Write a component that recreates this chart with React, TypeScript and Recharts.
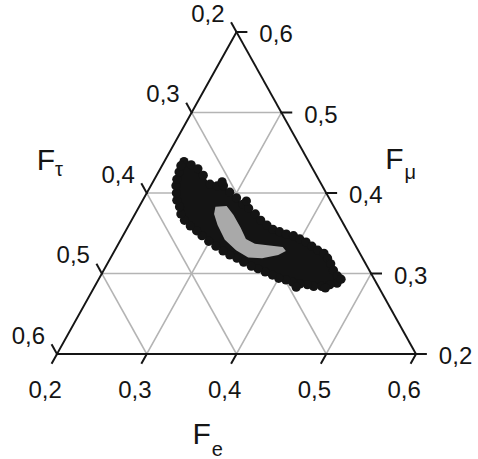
import React from 'react';
import { ScatterChart, Scatter, XAxis, YAxis } from 'recharts';

// ternary axis values (each axis runs 0.2 .. 0.6)
const axisTicks = [0.2, 0.3, 0.4, 0.5, 0.6];
const gridValues = [0.3, 0.4, 0.5];

// black cloud: outline points [Fe, Fmu] (F_tau = 1 - Fe - Fmu)
const cloudEdge: [number, number][] = [
  [0.222, 0.439], [0.232, 0.435], [0.242, 0.430], [0.252, 0.422], [0.265, 0.411],
  [0.274, 0.409], [0.281, 0.409], [0.292, 0.401], [0.303, 0.394], [0.314, 0.386],
  [0.323, 0.381], [0.334, 0.374], [0.344, 0.366], [0.354, 0.360], [0.363, 0.355],
  [0.372, 0.352], [0.381, 0.349], [0.390, 0.347], [0.399, 0.343], [0.408, 0.339],
  [0.417, 0.334], [0.426, 0.329], [0.435, 0.325], [0.442, 0.319], [0.449, 0.312],
  [0.456, 0.304], [0.464, 0.297], [0.468, 0.288], [0.461, 0.286], [0.453, 0.284],
  [0.444, 0.284], [0.436, 0.286], [0.427, 0.287], [0.418, 0.289], [0.409, 0.292],
  [0.400, 0.294], [0.391, 0.298], [0.381, 0.302], [0.371, 0.306], [0.362, 0.309],
  [0.351, 0.314], [0.341, 0.319], [0.331, 0.323], [0.321, 0.328], [0.310, 0.334],
  [0.299, 0.340], [0.288, 0.347], [0.279, 0.353], [0.269, 0.359], [0.259, 0.366],
  [0.251, 0.374], [0.245, 0.383], [0.238, 0.391], [0.233, 0.400], [0.228, 0.409],
  [0.225, 0.417], [0.223, 0.426], [0.221, 0.434],
];

// scattered points lying outside the dense band [Fe, Fmu]
const cloudOutliers: [number, number][] = [
  [0.277, 0.414], [0.316, 0.390], [0.470, 0.293], [0.458, 0.282], [0.425, 0.283],
];

// grey core region outline [Fe, Fmu]
const greyRegion: [number, number][] = [
  [0.285, 0.383], [0.297, 0.384], [0.310, 0.373], [0.326, 0.357], [0.339, 0.343],
  [0.352, 0.337], [0.367, 0.335], [0.385, 0.333], [0.391, 0.328], [0.385, 0.323],
  [0.369, 0.319], [0.353, 0.320], [0.335, 0.329], [0.316, 0.342], [0.299, 0.360],
  [0.288, 0.374],
];

const TICK = 0.011;
const FONT = 'Liberation Sans, Arial, Helvetica, sans-serif';
const INK = '#151515';

const toXY = (fe: number, fmu: number) => ({ x: fe - 0.2 + (fmu - 0.2) / 2, y: fmu - 0.2 });
const fmt = (v: number) => v.toFixed(1).replace('.', ',');

// segment pairs
const gridSegs: any[] = [];
gridValues.forEach((v) => {
  gridSegs.push(toXY(0.2, v), toXY(0.8 - v, v)); // const F_mu
  gridSegs.push(toXY(v, 0.2), toXY(v, 0.8 - v)); // const F_e
  gridSegs.push(toXY(0.8 - v, 0.2), toXY(0.2, 0.8 - v)); // const F_tau
});

const frameSegs: any[] = [
  toXY(0.2, 0.2), toXY(0.6, 0.2),
  toXY(0.6, 0.2), toXY(0.2, 0.6),
  toXY(0.2, 0.6), toXY(0.2, 0.2),
];
axisTicks.forEach((v) => {
  frameSegs.push(toXY(v, 0.2), toXY(v, 0.2 - TICK)); // bottom (F_e)
  frameSegs.push(toXY(0.8 - v, v), toXY(0.8 - v + TICK, v)); // right (F_mu)
  frameSegs.push(toXY(0.2, 0.8 - v), toXY(0.2 - TICK, 0.8 - v + TICK)); // left (F_tau)
});

const bottomLabels = axisTicks.map((v) => ({ ...toXY(v, 0.2 - TICK), label: fmt(v) }));
const rightLabels = axisTicks.map((v) => ({ ...toXY(0.8 - v + TICK, v), label: fmt(v) }));
const leftLabels = axisTicks.map((v) => ({ ...toXY(0.2 - TICK, 0.8 - v + TICK), label: fmt(v) }));

const titles = [
  { ...toXY(0.4, 0.2), main: 'F', sub: 'e', dx: -44, dy: 90, sdx: 1, sdy: 12 },
  { ...toXY(0.2, 0.4), main: 'F', sub: 'τ', dx: -110, dy: -23, sdx: 0, sdy: 6 },
  { ...toXY(0.4, 0.4), main: 'F', sub: 'μ', dx: 59, dy: -24, sdx: 1, sdy: 10 },
];

const cloudEdgePts = cloudEdge.map(([fe, fmu]) => toXY(fe, fmu));
const cloudDots = [...cloudEdge, ...cloudOutliers].map(([fe, fmu]) => toXY(fe, fmu));
const greyPts = greyRegion.map(([fe, fmu]) => toXY(fe, fmu));

const noShape = () => <g />;

const segLine = (stroke: string, width: number) => (props: any) => {
  const pts = props.points || [];
  const out: any[] = [];
  for (let i = 0; i + 1 < pts.length; i += 2) {
    out.push(
      <line key={i} x1={pts[i].x} y1={pts[i].y} x2={pts[i + 1].x} y2={pts[i + 1].y}
        stroke={stroke} strokeWidth={width} strokeLinecap="square" />
    );
  }
  return <g>{out}</g>;
};

const polyLine = (fill: string) => (props: any) => (
  <polygon points={(props.points || []).map((p: any) => `${p.x},${p.y}`).join(' ')} fill={fill} stroke="none" />
);

const dotShape = (props: any) => <circle cx={props.cx} cy={props.cy} r={4.6} fill="#141414" />;

const labelShape = (dx: number, dy: number, anchor: string) => (props: any) => (
  <text x={props.cx + dx} y={props.cy + dy} textAnchor={anchor} fontFamily={FONT} fontSize={24} fill={INK}>
    {props.payload.label}
  </text>
);

const titleShape = (props: any) => {
  const p = props.payload;
  return (
    <text x={props.cx + p.dx} y={props.cy + p.dy} fontFamily={FONT} fontSize={30} fill={INK}>
      <tspan>{p.main}</tspan>
      <tspan dx={p.sdx} dy={p.sdy} fontSize={20}>{p.sub}</tspan>
    </text>
  );
};

export default function App() {
  return (
    <div style={{ position: 'absolute', top: 0, left: 0, width: 478, height: 459 }}>
      <ScatterChart width={478} height={459} margin={{ top: 0, right: 0, bottom: 0, left: 0 }} style={{ overflow: 'visible' }}>
        <XAxis type="number" dataKey="x" domain={[-0.06351, 0.46908]} hide />
        <YAxis type="number" dataKey="y" domain={[-0.13043, 0.43975]} hide />
        <Scatter data={gridSegs} shape={noShape} line={segLine('#b4b4b4', 1.6)} isAnimationActive={false} />
        <Scatter data={frameSegs} shape={noShape} line={segLine(INK, 2)} isAnimationActive={false} />
        <Scatter data={cloudEdgePts} shape={noShape} line={polyLine('#141414')} isAnimationActive={false} />
        <Scatter data={cloudDots} shape={dotShape} isAnimationActive={false} />
        <Scatter data={greyPts} shape={noShape} line={polyLine('#a9a9a9')} isAnimationActive={false} />
        <Scatter data={bottomLabels} shape={labelShape(-7, 35, 'middle')} isAnimationActive={false} />
        <Scatter data={rightLabels} shape={labelShape(13, 10, 'start')} isAnimationActive={false} />
        <Scatter data={leftLabels} shape={labelShape(-7, -1.5, 'end')} isAnimationActive={false} />
        <Scatter data={titles} shape={titleShape} isAnimationActive={false} />
      </ScatterChart>
    </div>
  );
}
